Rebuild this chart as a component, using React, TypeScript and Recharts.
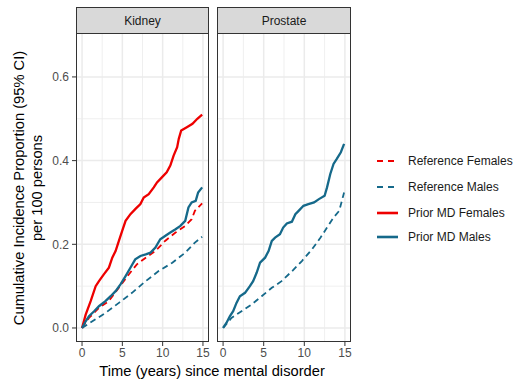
import { LineChart, Line, XAxis, YAxis, ReferenceLine } from "recharts";

const FONT = "'Liberation Sans', Arial, sans-serif";
const RED = "#ee0000";
const TEAL = "#15698a";
const GRID = "#ebebeb";

const xTicks = [0, 5, 10, 15];
const xMinor = [2.5, 7.5, 12.5];
const yTicks = [0, 0.2, 0.4, 0.6];
const yMinor = [0.1, 0.3, 0.5];

// [years, proportion]
const kidneyRefFemales = [
  [0, 0], [0.86, 0.024], [2.1, 0.048], [3.3, 0.064], [4.57, 0.096], [5.8, 0.128],
  [6.8, 0.152], [7.9, 0.168], [9.1, 0.184], [10.3, 0.208], [11.6, 0.228],
  [12.8, 0.244], [13.6, 0.26], [14.0, 0.28], [14.9, 0.298],
];
const kidneyRefMales = [
  [0, 0], [1.28, 0.016], [2.9, 0.036], [4.57, 0.06], [6.2, 0.084], [7.9, 0.112],
  [9.5, 0.136], [11.2, 0.156], [12.8, 0.18], [14.0, 0.204], [14.9, 0.218],
];
const kidneyPriorFemales = [
  [0, 0], [0.45, 0.032], [1.07, 0.064], [1.69, 0.1], [2.1, 0.112], [2.7, 0.128],
  [3.33, 0.144], [3.75, 0.168], [4.16, 0.184], [4.57, 0.208], [4.98, 0.232],
  [5.4, 0.256], [6.0, 0.272], [6.6, 0.284], [7.24, 0.296], [7.65, 0.312],
  [8.27, 0.32], [8.9, 0.336], [9.3, 0.348], [9.9, 0.36], [10.5, 0.372],
  [10.95, 0.388], [11.36, 0.412], [11.8, 0.432], [12.0, 0.452], [12.3, 0.472],
  [13.0, 0.48], [13.7, 0.488], [14.3, 0.5], [14.9, 0.51],
];
const kidneyPriorMales = [
  [0, 0], [0.45, 0.016], [0.86, 0.028], [1.5, 0.04], [2.1, 0.052], [2.9, 0.064],
  [3.55, 0.076], [4.16, 0.088], [4.77, 0.104], [5.4, 0.124], [6.0, 0.144],
  [6.6, 0.164], [7.24, 0.172], [7.9, 0.176], [8.5, 0.18], [9.1, 0.192],
  [9.7, 0.212], [10.3, 0.22], [10.95, 0.228], [11.6, 0.236], [12.2, 0.244],
  [12.8, 0.256], [13.2, 0.288], [13.6, 0.3], [14.1, 0.304], [14.4, 0.324], [14.9, 0.336],
];
const prostateRefMales = [
  [0, 0], [1.03, 0.024], [2.27, 0.04], [3.5, 0.056], [4.75, 0.076], [6.0, 0.096],
  [7.2, 0.112], [8.5, 0.136], [9.7, 0.16], [10.95, 0.188], [12.0, 0.216],
  [12.8, 0.24], [13.6, 0.264], [14.3, 0.28], [14.9, 0.324],
];
const prostatePriorMales = [
  [0, 0], [0.41, 0.012], [0.83, 0.028], [1.24, 0.04], [1.65, 0.06], [2.07, 0.076],
  [2.7, 0.084], [3.3, 0.1], [3.7, 0.112], [4.13, 0.132], [4.55, 0.156],
  [5.17, 0.168], [5.6, 0.184], [6.0, 0.208], [6.4, 0.216], [7.0, 0.224],
  [7.4, 0.24], [7.85, 0.25], [8.47, 0.254], [8.9, 0.272], [9.3, 0.28],
  [9.9, 0.292], [10.5, 0.296], [11.2, 0.3], [11.8, 0.308], [12.5, 0.316],
  [12.8, 0.336], [13.2, 0.368], [13.6, 0.392], [14.0, 0.404], [14.5, 0.42], [14.9, 0.44],
];

const legendItems = [
  { label: "Reference Females", color: RED, dashed: true },
  { label: "Reference Males", color: TEAL, dashed: true },
  { label: "Prior MD Females", color: RED, dashed: false },
  { label: "Prior MD Males", color: TEAL, dashed: false },
];

const toPts = (a: number[][]) => a.map(([t, v]) => ({ t, v }));

interface Series {
  data: number[][];
  color: string;
  dashed: boolean;
}

const panels: { name: string; series: Series[] }[] = [
  {
    name: "Kidney",
    series: [
      { data: kidneyRefFemales, color: RED, dashed: true },
      { data: kidneyRefMales, color: TEAL, dashed: true },
      { data: kidneyPriorFemales, color: RED, dashed: false },
      { data: kidneyPriorMales, color: TEAL, dashed: false },
    ],
  },
  {
    name: "Prostate",
    series: [
      { data: prostateRefMales, color: TEAL, dashed: true },
      { data: prostatePriorMales, color: TEAL, dashed: false },
    ],
  },
];

const tickStyle = { fontSize: 12, fill: "#4d4d4d", fontFamily: FONT };

function Panel({ name, series, left, width, showY }: { name: string; series: Series[]; left: number; width: number; showY: boolean }) {
  const margin = { top: 33, right: 3, bottom: 25, left: showY ? 0 : 3 };
  const plotLeft = left + (showY ? 76 : 3);
  const plotW = width - (showY ? 76 : 3) - 3;
  return (
    <>
      <div style={{ position: "absolute", left, top: 0 }}>
        <LineChart width={width} height={387} margin={margin}>
          <XAxis
            dataKey="t"
            type="number"
            domain={[-0.75, 15.75]}
            ticks={xTicks}
            allowDataOverflow
            axisLine={false}
            tickLine={{ stroke: "#333333" }}
            tickSize={4}
            tickMargin={2}
            tick={tickStyle}
            height={20}
          />
          <YAxis
            type="number"
            domain={[-0.0335, 0.705]}
            ticks={yTicks}
            allowDataOverflow
            hide={!showY}
            width={76}
            axisLine={false}
            tickLine={{ stroke: "#333333" }}
            tickSize={4}
            tickMargin={3}
            tick={tickStyle}
            tickFormatter={(v: number) => v.toFixed(1)}
          />
          {yMinor.map((y) => (
            <ReferenceLine key={`ym${y}`} y={y} stroke={GRID} strokeWidth={0.8} />
          ))}
          {xMinor.map((x) => (
            <ReferenceLine key={`xm${x}`} x={x} stroke={GRID} strokeWidth={0.8} />
          ))}
          {yTicks.map((y) => (
            <ReferenceLine key={`y${y}`} y={y} stroke={GRID} strokeWidth={1.5} />
          ))}
          {xTicks.map((x) => (
            <ReferenceLine key={`x${x}`} x={x} stroke={GRID} strokeWidth={1.5} />
          ))}
          {series.map((s, i) => (
            <Line
              key={i}
              data={toPts(s.data)}
              dataKey="v"
              type="linear"
              stroke={s.color}
              strokeWidth={s.dashed ? 1.8 : 2.3}
              strokeDasharray={s.dashed ? "6 4" : undefined}
              dot={false}
              activeDot={false}
              isAnimationActive={false}
            />
          ))}
        </LineChart>
      </div>
      <div
        style={{
          position: "absolute", left: plotLeft, top: 33, width: plotW, height: 309,
          border: "1px solid #333333", boxSizing: "border-box", pointerEvents: "none",
        }}
      />
      <div
        style={{
          position: "absolute", left: plotLeft, top: 7, width: plotW, height: 27,
          border: "1px solid #333333", boxSizing: "border-box", background: "#d9d9d9",
          display: "flex", alignItems: "center", justifyContent: "center",
          fontFamily: FONT, fontSize: 12, color: "#1a1a1a",
        }}
      >
        {name}
      </div>
    </>
  );
}

export default function App() {
  return (
    <div style={{ position: "absolute", left: 0, top: 0, width: 524, height: 387, background: "#fff", fontFamily: FONT }}>
      <Panel name={panels[0].name} series={panels[0].series} left={0} width={212} showY />
      <Panel name={panels[1].name} series={panels[1].series} left={214} width={140} showY={false} />
      <svg width={524} height={387} style={{ position: "absolute", left: 0, top: 0, pointerEvents: "none" }}>
        <text x={212} y={376} textAnchor="middle" fontSize={14.7} fill="#000" fontFamily={FONT}>
          Time (years) since mental disorder
        </text>
        <text transform="translate(24.2,188) rotate(-90)" textAnchor="middle" fontSize={14.7} fill="#000" fontFamily={FONT}>
          Cumulative Incidence Proportion (95% CI)
        </text>
        <text transform="translate(42.2,188) rotate(-90)" textAnchor="middle" fontSize={14.7} fill="#000" fontFamily={FONT}>
          per 100 persons
        </text>
        {legendItems.map((it, i) => {
          const y = [161, 187, 213, 237][i];
          return (
            <g key={it.label}>
              <line
                x1={377} x2={398} y1={y} y2={y}
                stroke={it.color}
                strokeWidth={it.dashed ? 1.8 : 2.6}
                strokeDasharray={it.dashed ? "6 5" : undefined}
              />
              <text x={408} y={y + 4} fontSize={12} fill="#1a1a1a" fontFamily={FONT}>
                {it.label}
              </text>
            </g>
          );
        })}
      </svg>
    </div>
  );
}
